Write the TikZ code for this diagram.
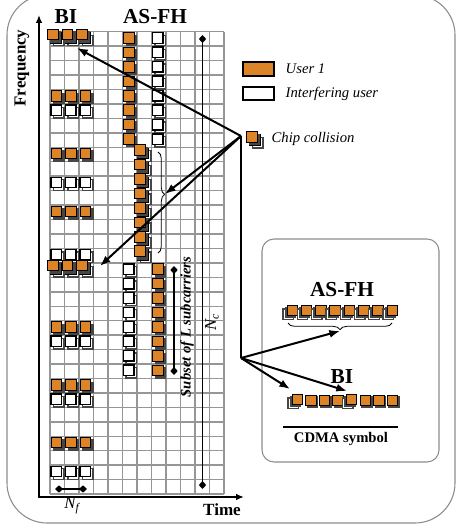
\documentclass[tikz,border=0pt]{standalone}
\usepackage{fontspec}
\setmainfont{Liberation Serif}
\usetikzlibrary{arrows.meta,decorations.pathreplacing}
\definecolor{usrorange}{RGB}{221,132,40}
\definecolor{gridgray}{RGB}{150,150,150}
\definecolor{shadowgray}{RGB}{70,70,70}
\definecolor{framegray}{RGB}{140,140,140}
\tikzset{
  usrsq/.style={draw=black, line width=0.7pt, fill=usrorange},
  intfsq/.style={draw=black, line width=1pt, fill=white},
  shdsq/.style={draw=shadowgray, line width=0.6pt, fill=shadowgray},
  gridline/.style={draw=gridgray, line width=1.1pt},
  bigarrow/.style={line width=1.5pt, -{Latex[length=8pt,width=6pt]}},
  dimline/.style={line width=1.4pt, {Diamond[length=6pt,width=5.5pt]}-{Diamond[length=6pt,width=5.5pt]}},
  boldlbl/.style={font=\bfseries\fontsize{16}{18}\selectfont},
  legtxt/.style={font=\itshape\fontsize{11}{13}\selectfont, anchor=west},
  usr/.pic={
    \draw[shdsq] (2.5,2.5) rectangle +(10.5,10.5);
    \draw[usrsq] (0,0) rectangle (10.5,10.5);
  },
  intf/.pic={
    \draw[intfsq, draw=shadowgray] (2.5,2.5) rectangle +(10.5,10.5);
    \draw[intfsq] (0,0) rectangle (10.5,10.5);
  },
  coll/.pic={
    \draw[intfsq, draw=shadowgray] (2.5,2.5) rectangle +(10.5,10.5);
    \draw[intfsq] (0,0) rectangle (10.5,10.5);
    \draw[shdsq] (-1,-1) rectangle +(10.5,10.5);
    \draw[usrsq] (-3.5,-3.5) rectangle +(10.5,10.5);
  },
  icoll/.pic={
    \draw[intfsq, draw=shadowgray] (-4,4) rectangle +(10.5,10.5);
    \draw[shdsq] (-2,2) rectangle +(10.5,10.5);
    \draw[usrsq] (0,0) rectangle +(10.5,10.5);
  },
  iusr/.pic={
    \draw[shdsq] (1.5,1.5) rectangle +(10.5,10.5);
    \draw[usrsq] (0,0) rectangle +(10.5,10.5);
  },
}
\begin{document}
\begin{tikzpicture}[x=0.75pt,y=-0.75pt]
    \useasboundingbox (0,0) rectangle (456,527);
    % Marco exterior
    \draw[framegray, line width=0.8pt, rounded corners=30] (7,-5) rectangle (455,523);
    % Rejilla tiempo-frecuencia
    \foreach \i in {0,...,12}
        \draw[gridline] (50+\i*14.5,31.7) -- (50+\i*14.5,494.1);
    \foreach \j in {0,...,32}
        \draw[gridline] (50,31.7+\j*14.45) -- (224,31.7+\j*14.45);
    % Ejes
    \coordinate (orig) at (39,497);
    \coordinate (freqtip) at (39,15);
    \coordinate (timetip) at (244,497);
    \draw[line width=2pt, {Latex[length=6pt,width=5pt]}-{Latex[length=6pt,width=5pt]}] (freqtip) -- (orig) -- (timetip);
    \node[rotate=90, font=\bfseries\fontsize{12.7}{14}\selectfont] (lblFreq) at (22,68) {Frequency};
    \node[font=\bfseries\fontsize{12.8}{14}\selectfont] (lblTime) at (222,510) {Time};
    \node[boldlbl] (lblBI) at (66,17) {BI};
    \node[boldlbl] (lblASFH) at (155,17) {AS-FH};
    % BI: usuario 1, interferente y colisiones
    \foreach \r in {4,8,12,20,24,28}
        \foreach \c in {0,1,2}
            \pic at (51+\c*14.5,32.7+\r*14.45) {usr};
    \foreach \r in {5,10,15,21,25,30}
        \foreach \c in {0,1,2}
            \pic at (51+\c*14.5,32.7+\r*14.45) {intf};
    \foreach \r in {0,16}
        \foreach \c in {0,1,2}
            \pic at (51+\c*14.5,32.7+\r*14.45) {coll};
    % AS-FH: saltos de subportadora
    \foreach \r in {0,...,7} {
        \pic at (51+5*14.5,32.7+\r*14.45) {usr};
        \pic at (51+7*14.5,32.7+\r*14.45) {intf};
    }
    \foreach \r in {8,...,15}
        \pic at (51+6*14.5,32.7+\r*14.45) {coll};
    \foreach \r in {16,...,23} {
        \pic at (51+7*14.5,32.7+\r*14.45) {usr};
        \pic at (51+5*14.5,32.7+\r*14.45) {intf};
    }
    % Cotas
    \coordinate (nfa) at (55,489);
    \coordinate (nfb) at (87,489);
    \draw[dimline] (nfa) -- (nfb);
    \node[font=\itshape\fontsize{12.5}{14}\selectfont] (lblNf) at (72,506) {N\textsubscript{f}};
    \coordinate (nca) at (202.5,35);
    \coordinate (ncb) at (202.5,489);
    \draw[dimline] (nca) -- (ncb);
    \node[rotate=90, font=\itshape\fontsize{12.5}{14}\selectfont] (lblNc) at (212,322) {N\textsubscript{c}};
    \coordinate (sla) at (174,266);
    \coordinate (slb) at (174,375);
    \draw[dimline] (sla) -- (slb);
    \node[rotate=90, font=\bfseries\itshape\fontsize{11}{13}\selectfont] (lblSub) at (187,327) {Subset of L subcarriers};
    % Llave de las colisiones AS-FH
    \draw[line width=0.6pt, decorate, decoration={brace, amplitude=5pt, aspect=0.42}] (158,152) -- (158,253);
    \coordinate (tgtBrace) at (165,194);
    % Leyenda
    \draw[usrsq, line width=0.8pt] (243,62) rectangle (274,76);
    \node[legtxt] (legUser) at (281,69) {User 1};
    \draw[intfsq, line width=0.8pt] (243,87) rectangle (274,100);
    \node[legtxt] (legIntf) at (281,94) {Interfering user};
    \pic at (250,135) {coll};
    \node[legtxt] (legColl) at (267,139) {Chip collision};
    % Flechas desde la leyenda de colision
    \coordinate (collSrc) at (241,136);
    \coordinate (tgtBItop) at (77,48);
    \coordinate (tgtBIcoll) at (100,266);
    \draw[bigarrow] (collSrc) -- (tgtBItop);
    \draw[bigarrow] (collSrc) -- (tgtBrace);
    \draw[bigarrow] (collSrc) -- (tgtBIcoll);
    \coordinate (junc) at (241,358);
    \draw[line width=1.2pt] (collSrc) -- (junc);
    % Recuadro del simbolo CDMA
    \draw[framegray, line width=0.8pt, rounded corners=9] (262,239) rectangle (439,462);
    \node[boldlbl] (insASFH) at (342,290) {AS-FH};
    \foreach \k in {0,...,7}
        \pic at (287+\k*14.3,305) {icoll};
    \draw[line width=0.6pt, decorate, decoration={brace, amplitude=5pt}] (392,323) -- (288,323);
    \coordinate (tgtInsBrace) at (340,331);
    \node[boldlbl] (insBI) at (342,377) {BI};
    \foreach \k in {1,2,3,5,6,7}
        \pic at (292+\k*13.6,395) {iusr};
    \foreach \k in {0,4}
        \pic at (292+\k*13.6,394) {icoll};
    \coordinate (tgtInsA) at (290,389);
    \coordinate (tgtInsB) at (347,391);
    \draw[bigarrow] (junc) -- (tgtInsBrace);
    \draw[bigarrow] (junc) -- (tgtInsA);
    \draw[bigarrow] (junc) -- (tgtInsB);
    \draw[line width=0.8pt] (283,427) -- (398,427);
    \node[font=\bfseries\fontsize{11}{13}\selectfont] (lblCDMA) at (341,439) {CDMA symbol};
\end{tikzpicture}
\end{document}
